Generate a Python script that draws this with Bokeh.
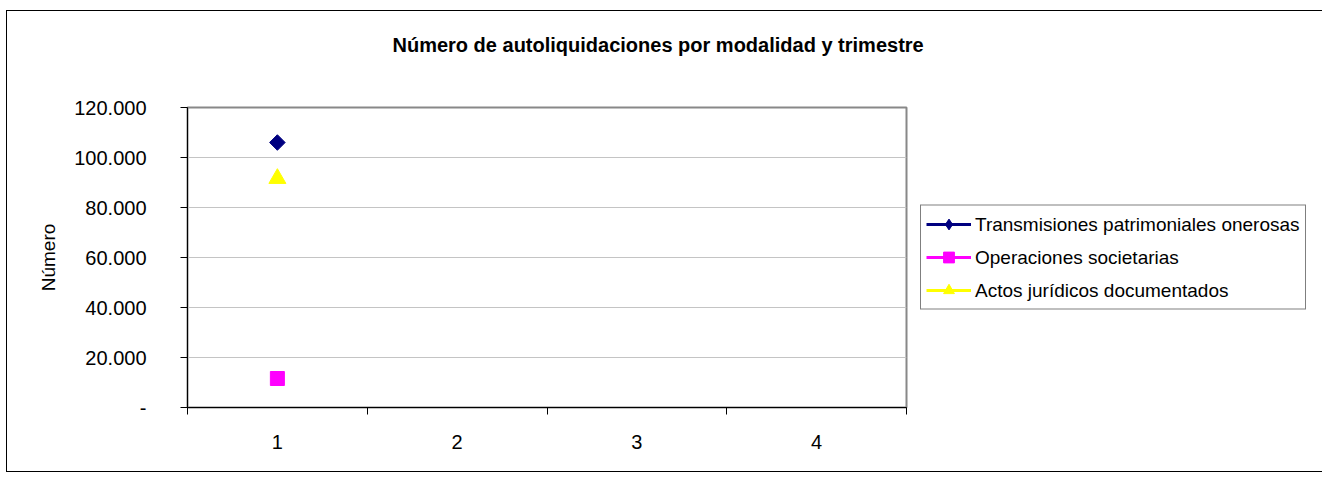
from bokeh.plotting import figure
from bokeh.models import (FixedTicker, Legend, LegendItem, ColumnDataSource, Range1d, Title)
from bokeh.embed import file_html
from bokeh.resources import INLINE
import math

# ---- data ----
quarters = [1, 2, 3, 4]
transmisiones = [106000, None, None, None]
operaciones = [11600, None, None, None]
actos = [91600, None, None, None]
series_names = ["Transmisiones patrimoniales onerosas", "Operaciones societarias",
                "Actos jurídicos documentados"]
y_ticks = [0, 20000, 40000, 60000, 80000, 100000, 120000]
y_tick_labels = ["-", "20.000", "40.000", "60.000", "80.000", "100.000", "120.000"]
title_text = "Número de autoliquidaciones por modalidad y trimestre"
y_label = "Número"

FONT = "Liberation Sans"

p = figure(frame_width=719, frame_height=300,
           min_border_left=180, min_border_top=96, min_border_right=0, min_border_bottom=64,
           x_range=Range1d(0.5, 4.5), y_range=Range1d(0, 120000),
           output_backend="svg", toolbar_location=None, tools="")
p.styles = {"border": "1px solid black", "margin-left": "6px", "margin-top": "10px"}

p.background_fill_color = "white"
p.border_fill_color = "white"
p.outline_line_color = "#888888"
p.outline_line_width = 2

# title: a blank spacer next to the frame, then the real title above it
p.title.text = ""
spacer = Title(text=" ", text_font=FONT, text_font_size="20px", standoff=28)
p.add_layout(spacer, "above")
main_title = Title(text=title_text, text_font=FONT, text_font_style="bold",
                   text_font_size="20px", text_color="black", align="left",
                   offset=205, standoff=0)
p.add_layout(main_title, "above")

# grid
p.xgrid.grid_line_color = None
p.ygrid.grid_line_color = "#c4c4c4"
p.ygrid.grid_line_width = 1

# y axis
p.yaxis.ticker = FixedTicker(ticks=y_ticks)
p.yaxis.major_label_overrides = {t: l for t, l in zip(y_ticks, y_tick_labels)}
p.yaxis.major_tick_out = 7
p.yaxis.major_tick_in = 0
p.yaxis.minor_tick_out = 0
p.yaxis.minor_tick_in = 0
p.yaxis.axis_line_color = "black"
p.yaxis.major_tick_line_color = "black"
p.yaxis.major_label_standoff = 34
p.yaxis.major_label_text_font = FONT
p.yaxis.major_label_text_font_size = "20px"
p.yaxis.major_label_text_color = "black"
p.yaxis.axis_label = y_label
p.yaxis.axis_label_text_font = FONT
p.yaxis.axis_label_text_font_size = "19px"
p.yaxis.axis_label_text_font_style = "normal"
p.yaxis.axis_label_text_color = "black"
p.yaxis.axis_label_standoff = 12

# x axis
p.xaxis.ticker = FixedTicker(ticks=quarters,
                             minor_ticks=[q - 0.5 for q in quarters] + [quarters[-1] + 0.5])
p.xaxis.major_tick_out = 0
p.xaxis.major_tick_in = 0
p.xaxis.minor_tick_out = 7
p.xaxis.minor_tick_in = 0
p.xaxis.minor_tick_line_color = "black"
p.xaxis.axis_line_color = "black"
p.xaxis.major_label_standoff = 20
p.xaxis.major_label_text_font = FONT
p.xaxis.major_label_text_font_size = "20px"
p.xaxis.major_label_text_color = "black"

def nz(v):
    return [float("nan") if x is None else x for x in v]

colors = ["#000080", "#FF00FF", "#FFFF00"]
markers = ["square", "square", "triangle"]
legend_markers = ["diamond", "square", "triangle"]
angles = [math.pi / 4, 0, 0]
sizes = [11, 14, 17]
legend_sizes = [16, 12, 14]
values = [transmisiones, operaciones, actos]

items = []
for name, vals, c, m, lm, a, s, ls in zip(series_names, values, colors, markers,
                                          legend_markers, angles, sizes, legend_sizes):
    src = ColumnDataSource(dict(x=quarters, y=nz(vals)))
    ln = p.line("x", "y", source=src, line_color=c, line_width=3)
    p.scatter("x", "y", source=src, marker=m, angle=a, size=s,
              fill_color=c, line_color=c)
    # legend swatch marker (draws nothing in the plot)
    proxy = p.scatter(x=[float("nan")], y=[float("nan")], marker=lm, size=ls,
                      fill_color=c, line_color=c)
    items.append(LegendItem(label=name, renderers=[ln, proxy]))

legend = Legend(items=items, location="left")
legend.label_text_font = FONT
legend.label_text_font_size = "19px"
legend.label_text_color = "black"
legend.border_line_color = "black"
legend.border_line_width = 1
legend.glyph_width = 45
legend.glyph_height = 27
legend.label_height = 27
legend.spacing = 6
legend.padding = 5
legend.margin = 14
legend.label_standoff = 4
legend.background_fill_color = "white"
p.add_layout(legend, "right")

open("out.html", "w").write(file_html(p, INLINE))
